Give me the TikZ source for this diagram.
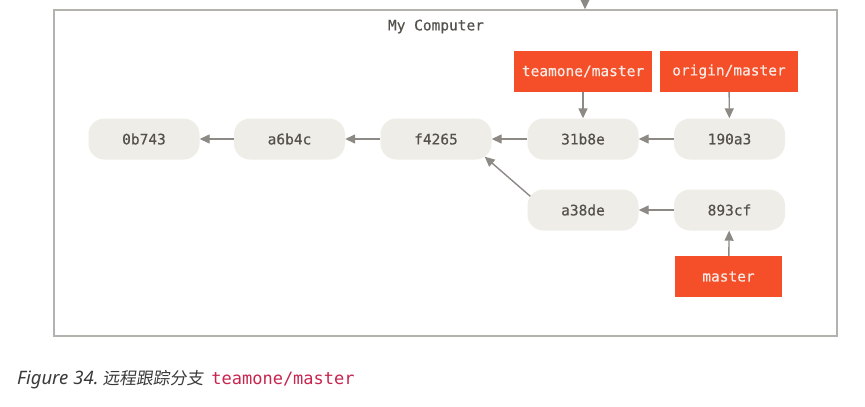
\documentclass[tikz,border=0pt]{standalone}
\usepackage{fontspec}
\setmainfont{Noto Sans}
\setmonofont{DejaVu Sans Mono}
\newfontfamily\boldmono[FakeBold=0.5]{DejaVu Sans Mono}
\newfontfamily\cjk[FakeSlant=0.15]{Noto Sans CJK SC}
\usetikzlibrary{arrows.meta,positioning,calc}
\definecolor{commitfill}{HTML}{EEEDE7}
\definecolor{committext}{HTML}{55524E}
\definecolor{gitorange}{HTML}{F44F28}
\definecolor{reftext}{HTML}{F7E9E4}
\definecolor{arrowgrey}{HTML}{8D8A85}
\definecolor{framegrey}{HTML}{B4B2AD}
\definecolor{codered}{HTML}{C7254E}
\definecolor{captiontext}{HTML}{3A3A3A}
\tikzset{
  commit/.style={fill=commitfill, rounded corners=16pt, minimum width=111pt, minimum height=41pt,
    inner sep=0pt, text=committext, font=\boldmono\fontsize{14.5}{16}\selectfont},
  refbox/.style={fill=gitorange, minimum width=138pt, minimum height=41pt, inner sep=0pt,
    text=reftext, font=\boldmono\fontsize{14.5}{16}\selectfont},
  conn/.style={draw=arrowgrey, line width=1.4pt, -{Triangle[length=10pt,width=9pt]}},
}
\begin{document}
\begin{tikzpicture}[x=1pt,y=-1pt]
\useasboundingbox (0,0) rectangle (865,407);
\fill[white] (0,0) rectangle (865,407);
% frame
\node[draw=framegrey, line width=1.3pt, minimum width=783pt, minimum height=326pt, inner sep=0pt] (frame) at (445.5,173) {};
\node[font=\boldmono\fontsize{14.5}{16}\selectfont, text=committext] (title) at (436,26.5) {My Computer};
\coordinate (topc) at (585,-4);
\draw[conn] (topc) -- (topc |- frame.north);
% commits
\node[commit] (c0b743) at (144,139) {0b743};
\node[commit] (ca6b4c) at (289.5,139) {a6b4c};
\node[commit] (cf4265) at (436,139) {f4265};
\node[commit] (c31b8e) at (583,139) {31b8e};
\node[commit] (c190a3) at (729.5,139) {190a3};
\node[commit] (ca38de) at (583,210) {a38de};
\node[commit] (c893cf) at (729.5,210) {893cf};
% refs
\node[refbox] (teamone) at (583,71.5) {teamone/master};
\node[refbox] (origin) at (729,71.5) {origin/master};
\node[refbox, minimum width=107pt] (master) at (728.5,276.5) {master};
% connectors
\draw[conn] (ca6b4c) -- (c0b743);
\draw[conn] (cf4265) -- (ca6b4c);
\draw[conn] (c31b8e) -- (cf4265);
\draw[conn] (c190a3) -- (c31b8e);
\draw[conn] (c893cf) -- (ca38de);
\draw[conn] ($(ca38de.north west)+(3,7)$) -- ($(cf4265.south east)+(-7,-3)$);
\draw[conn] (teamone) -- (c31b8e);
\draw[conn] (origin) -- (c190a3);
\draw[conn] (master) -- (c893cf);
% caption
\node[anchor=base west, inner sep=0pt, text=captiontext] (caption) at (17,384)
  {{\fontsize{18.5}{20}\selectfont\itshape Figure\hspace{5pt}34.}\hspace{4pt}{\fontsize{16.8}{20}\selectfont\cjk 远程跟踪分支}\hspace{8pt}{\fontsize{17}{20}\selectfont\ttfamily\upshape\color{codered}teamone/master}};
\end{tikzpicture}
\end{document}
